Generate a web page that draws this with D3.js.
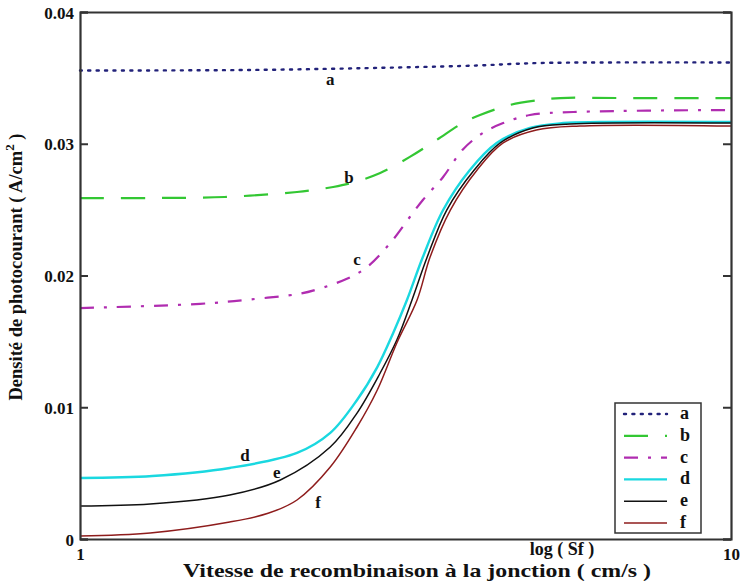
<html>
  <head>
    <script src="https://d3js.org/d3.v7.min.js"></script>
    <style>
      body { margin: 0; background: #fff; }
      text { font-family: "Times New Roman", "Liberation Serif", Times, serif; font-weight: bold; fill: #111; }
    </style>
  </head>
  <body>
    <svg id="graph" width="744" height="583"></svg>
    <script>
      // x = log(Sf), y = current density (A/cm2)
      const xA = [1, 3.35, 5.4, 6.5, 6.95, 7.35, 8.2, 10];
      const yA = [0.03556, 0.0356, 0.03579, 0.03594, 0.03605, 0.03613, 0.03617, 0.03617];

      const xB = [1, 2, 3, 4, 4.5, 4.75, 5.15, 5.56, 5.93, 6.29, 6.53, 6.94, 7.36, 7.64, 8.5, 10];
      const yB = [0.02588, 0.02588, 0.02596, 0.02634, 0.02672, 0.02702, 0.02778, 0.029, 0.03029, 0.03157, 0.03218, 0.03294, 0.03332, 0.03347, 0.03347, 0.03347];

      const xC = [1, 2.66, 3.35, 4.04, 4.28, 4.69, 4.97, 5.29, 5.56, 5.74, 6.02, 6.29, 6.57, 6.85, 7.22, 7.82, 10];
      const yC = [0.01753, 0.01785, 0.01818, 0.01862, 0.01895, 0.01975, 0.02064, 0.02247, 0.02444, 0.02573, 0.02748, 0.02955, 0.03082, 0.03157, 0.03218, 0.03241, 0.03256];

      const xD = [1, 2, 3.07, 4, 4.46, 4.83, 5.11, 5.33, 5.52, 5.74, 6.02, 6.39, 6.76, 7.22, 7.68, 8.19, 10];
      const yD = [0.00463, 0.00478, 0.00539, 0.00653, 0.00805, 0.01055, 0.01305, 0.01564, 0.01814, 0.0214, 0.02497, 0.02801, 0.03006, 0.0312, 0.03157, 0.03165, 0.03165];

      const xE = [1, 1.97, 3.07, 3.77, 4.46, 4.83, 5.15, 5.38, 5.59, 5.8, 6.07, 6.45, 6.81, 7.26, 7.77, 10];
      const yE = [0.0025, 0.00265, 0.00334, 0.00448, 0.00698, 0.00956, 0.0126, 0.0151, 0.01814, 0.0214, 0.02497, 0.02801, 0.03006, 0.0312, 0.0315, 0.03157];

      const xF = [1, 1.97, 3.07, 3.6, 4, 4.46, 4.83, 5.11, 5.38, 5.66, 5.84, 6.12, 6.49, 6.85, 7.31, 7.91, 10];
      const yF = [0.00023, 0.00046, 0.00129, 0.00195, 0.00296, 0.00546, 0.0085, 0.01131, 0.01488, 0.01814, 0.0214, 0.02497, 0.02801, 0.03006, 0.03104, 0.03135, 0.03135];

      const names = ["a", "b", "c", "d", "e", "f"];
      const xs = [xA, xB, xC, xD, xE, xF];
      const ys = [yA, yB, yC, yD, yE, yF];
      // where each curve letter sits (data units)
      const labelX = [4.46, 4.72, 4.83, 3.28, 3.72, 4.29];
      const labelY = [0.03446, 0.02702, 0.0208, 0.00592, 0.00463, 0.00235];

      const yTicks = [0, 0.01, 0.02, 0.03, 0.04];
      const xTicks = [1, 10];

      const colors = ["#22227a", "#33c733", "#b02cb0", "#1ad8e0", "#111111", "#8e1c1c"];
      const dashes = ["2,6.4", "24,17", "14,10,3,10", null, null, null];
      const widths = [2.4, 2.2, 2.2, 2.4, 1.5, 1.5];

      const svg = d3.select("#graph");
      const mLeft = 80, mRight = 731, mTop = 12, mBottom = 539;
      const serif = "'Times New Roman', 'Liberation Serif', Times, serif";

      const x = d3.scaleLinear().domain([1, 10]).range([mLeft, mRight]);
      const y = d3.scaleLinear().domain([0, 0.04]).range([mBottom, mTop]);

      // curves
      const line = d3.line()
        .x((d) => x(d[0]))
        .y((d) => y(d[1]))
        .curve(d3.curveCatmullRom.alpha(0.5));

      names.forEach((n, i) => {
        svg.append("path")
          .datum(xs[i].map((v, j) => [v, ys[i][j]]))
          .attr("d", line)
          .attr("fill", "none")
          .attr("stroke", colors[i])
          .attr("stroke-width", widths[i])
          .attr("stroke-linecap", i === 0 ? "round" : "butt")
          .attr("stroke-dasharray", dashes[i]);
      });

      // axes
      const fmt = (d) => (d === 0 ? "0" : d3.format(".2f")(d));
      const gl = svg.append("g")
        .attr("transform", `translate(${mLeft},0)`)
        .call(d3.axisLeft(y).tickValues(yTicks).tickSize(-8).tickPadding(6).tickFormat(fmt));
      const gr = svg.append("g")
        .attr("transform", `translate(${mRight},0)`)
        .call(d3.axisRight(y).tickValues(yTicks).tickSize(-8).tickFormat(""));
      const gb = svg.append("g")
        .attr("transform", `translate(0,${mBottom})`)
        .call(d3.axisBottom(x).tickValues(xTicks).tickSize(0).tickPadding(9).tickFormat(d3.format("d")));
      const gt = svg.append("g")
        .attr("transform", `translate(0,${mTop})`)
        .call(d3.axisTop(x).tickValues([]).tickSize(0));

      [gl, gr, gb, gt].forEach((g) => {
        g.attr("font-family", serif);
        g.select(".domain").attr("stroke", "#333").attr("stroke-width", 2.2);
        g.selectAll(".tick line").attr("stroke", "#333").attr("stroke-width", 2);
        g.selectAll(".tick text")
          .attr("font-size", 17)
          .attr("font-weight", "bold")
          .attr("fill", "#111");
      });
      gl.selectAll(".tick text").attr("dy", "0.36em");
      gb.selectAll(".tick text").attr("dy", "0.71em");

      // curve letters
      names.forEach((n, i) => {
        svg.append("text")
          .attr("x", x(labelX[i]))
          .attr("y", y(labelY[i]))
          .attr("text-anchor", "middle")
          .attr("font-size", 17)
          .text(n);
      });

      // axis titles
      svg.append("text")
        .attr("x", 417)
        .attr("y", 577)
        .attr("text-anchor", "middle")
        .attr("font-size", 19)
        .attr("textLength", 468)
        .attr("lengthAdjust", "spacingAndGlyphs")
        .text("Vitesse de recombinaison à la jonction ( cm/s )");

      svg.append("text")
        .attr("x", 562)
        .attr("y", 555)
        .attr("text-anchor", "middle")
        .attr("font-size", 18)
        .text("log ( Sf )");

      const yt = svg.append("text")
        .attr("transform", "translate(22,267) rotate(-90)")
        .attr("text-anchor", "middle")
        .attr("font-size", 18.5);
      yt.append("tspan").text("Densité de photocourant ( A/cm");
      yt.append("tspan").attr("dy", -8).attr("font-size", 13).text("2");
      yt.append("tspan").attr("dy", 8).text(" )");

      // legend
      const lg = svg.append("g");
      lg.append("rect")
        .attr("x", 615).attr("y", 403).attr("width", 86).attr("height", 130)
        .attr("fill", "#fff").attr("stroke", "#333").attr("stroke-width", 1.5);
      names.forEach((n, i) => {
        const ly = 414 + i * 21.8;
        lg.append("line")
          .attr("x1", 624).attr("x2", 667)
          .attr("y1", ly).attr("y2", ly)
          .attr("stroke", colors[i])
          .attr("stroke-width", widths[i])
          .attr("stroke-linecap", i === 0 ? "round" : "butt")
          .attr("stroke-dasharray", dashes[i]);
        lg.append("text")
          .attr("x", 680)
          .attr("y", ly + 5)
          .attr("font-size", 18)
          .text(n);
      });
    </script>
  </body>
</html>
